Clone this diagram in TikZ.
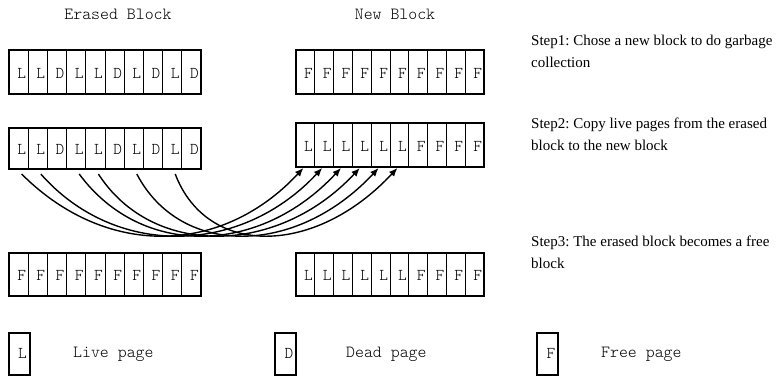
\documentclass[tikz,border=0pt]{standalone}
\usepackage{fontspec}
\setmainfont{Liberation Serif}
\newfontfamily\typewriter{Latin Modern Mono Light}
\usetikzlibrary{arrows.meta,calc}

\tikzset{
  cell/.style={inner sep=0pt, outer sep=0pt, anchor=north west},
  frame/.style={line width=1.5pt},
  divider/.style={line width=1pt},
  tag/.style={font=\typewriter\fontsize{16.5}{16.5}\selectfont, inner sep=0pt},
  heading/.style={font=\typewriter\fontsize{17}{17}\selectfont, inner sep=0pt, anchor=base},
  steptext/.style={font=\rmfamily\frenchspacing\fontsize{15}{22}\selectfont, inner sep=0pt, anchor=base west, align=left},
  move/.style={line width=1.4pt, -{Latex[length=8.5pt,width=7pt]}}
}

% one row of ten pages: name, left x, top y, cell width, cell height, letters
\newcommand{\pagerow}[6]{%
  \foreach \t [count=\i] in {#6} {
    \node[cell, minimum width=#4pt, minimum height=#5pt,
          label={[tag, xshift=3pt, yshift=-1pt]center:\t}]
      (#1-\i) at ({#2+#4*(\i-1)}, #3) {};
  }%
  \foreach \i in {1,...,9} {
    \draw[divider] (#1-\i.north east) -- (#1-\i.south east);
  }%
  \draw[frame] (#1-1.north west) rectangle (#1-10.south east);
}

\begin{document}
\begin{tikzpicture}[x=1pt, y=-1pt]
\useasboundingbox (0,0) rectangle (777,377);

% column headings
\node[heading] (hErased) at (118,19.5) {Erased Block};
\node[heading] (hNew) at (395,19.5) {New Block};

% step 1
\pagerow{e1}{9}{50}{19.2}{44}{L,L,D,L,L,D,L,D,L,D}
\pagerow{n1}{296}{50}{18.8}{44}{F,F,F,F,F,F,F,F,F,F}
% step 2
\pagerow{e2}{9}{128}{19.2}{41}{L,L,D,L,L,D,L,D,L,D}
\pagerow{n2}{296}{123}{18.8}{44}{L,L,L,L,L,L,F,F,F,F}
% step 3
\pagerow{e3}{9}{253}{19.2}{43}{F,F,F,F,F,F,F,F,F,F}
\pagerow{n3}{296}{253}{18.8}{43}{L,L,L,L,L,L,F,F,F,F}

% live pages copied into the new block
\foreach \s/\d/\a in {1/1/84, 2/2/74, 4/3/62, 5/4/54, 7/5/44, 9/6/32} {
  \draw[move] ($(e2-\s.south)+(3,5)$) .. controls +(\a,84) and +(-82,88)
    .. ($(n2-\d.south)+(-2,1)$);
}

% step descriptions
\node[steptext] (s1) at (531,68) {Step1: Chose a new block to do garbage\\collection};
\node[steptext] (s2) at (531,150.5) {Step2: Copy live pages from the erased\\block to the new block};
\node[steptext] (s3) at (531,268) {Step3: The erased block becomes a free\\block};

% legend
\node[cell, draw, frame, minimum width=21pt, minimum height=42pt] (kL) at (9,333) {};
\node[tag, anchor=base] (kLt) at (22.5,358) {L};
\node[heading, anchor=base west] (kLd) at (73,357) {Live page};

\node[cell, draw, frame, minimum width=21pt, minimum height=42pt] (kD) at (275,333) {};
\node[tag, anchor=base] (kDt) at (289,358) {D};
\node[heading, anchor=base west] (kDd) at (346,357) {Dead page};

\node[cell, draw, frame, minimum width=21pt, minimum height=42pt] (kF) at (537,333) {};
\node[tag, anchor=base] (kFt) at (551,358) {F};
\node[heading, anchor=base west] (kFd) at (601,357) {Free page};
\end{tikzpicture}
\end{document}
